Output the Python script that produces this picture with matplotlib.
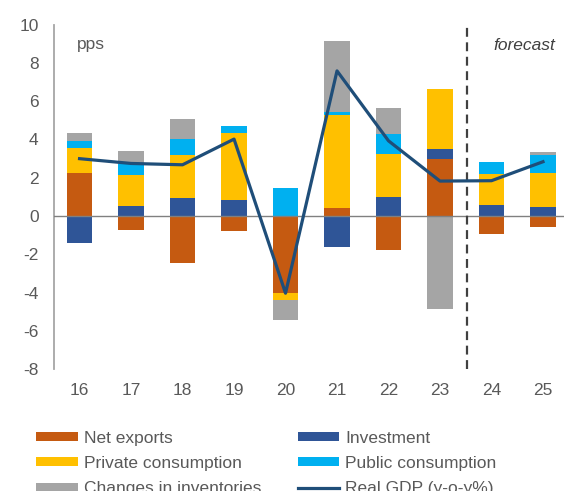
import numpy as np
import matplotlib
matplotlib.use('Agg')
from matplotlib import pyplot as plt

plt.rcParams['font.family'] = ['Liberation Sans', 'DejaVu Sans']
plt.rcParams['axes.unicode_minus'] = False

years = ['16', '17', '18', '19', '20', '21', '22', '23', '24', '25']
net_exports = [2.25, -0.70, -2.44, -0.76, -4.00, 0.40, -1.76, 2.98, -0.93, -0.55]
investment = [-1.38, 0.55, 0.95, 0.84, 0.00, -1.60, 1.02, 0.55, 0.58, 0.49]
private_cons = [1.33, 1.60, 2.25, 3.52, -0.35, 4.90, 2.22, 3.13, 1.62, 1.76]
public_cons = [0.35, 0.57, 0.85, 0.35, 1.47, 0.14, 1.07, -0.05, 0.60, 0.94]
inventories = [0.43, 0.69, 1.04, 0.00, -1.08, 3.72, 1.33, -4.80, 0.00, 0.17]
real_gdp = [3.00, 2.75, 2.68, 4.02, -4.02, 7.58, 3.93, 1.83, 1.85, 2.84]

series = [
    ('Net exports', net_exports, '#C55A11'),
    ('Investment', investment, '#2F5597'),
    ('Private consumption', private_cons, '#FFC000'),
    ('Public consumption', public_cons, '#00B0F0'),
    ('Changes in inventories', inventories, '#A5A5A5'),
]

txt = '#595959'
fig = plt.figure(figsize=(5.64, 4.91), dpi=100)
ax = fig.add_axes([0.0954, 0.2475, 0.913, 0.7026])

x = np.arange(len(years))
pos = np.zeros(len(years))
neg = np.zeros(len(years))
handles = {}
for name, vals, col in series:
    v = np.array(vals)
    bottom = np.where(v >= 0, pos, neg)
    handles[name] = ax.bar(x, v, 0.5, bottom=bottom, color=col, zorder=2)
    pos = pos + np.clip(v, 0, None)
    neg = neg + np.clip(v, None, 0)

gdp_line, = ax.plot(x, real_gdp, color='#1F4E79', lw=2.3, zorder=4)

ax.axhline(0, color='#808080', lw=1, zorder=3)
ax.axvline(7.53, color='#404040', lw=1.6, ls=(0, (4, 2.5)), zorder=3)

ax.set_xlim(-0.5, 9.5)
ax.set_ylim(-8, 10)
ax.set_yticks(range(-8, 11, 2))
ax.set_xticks(x)
ax.set_xticklabels(years)
for s in ['top', 'right', 'bottom']:
    ax.spines[s].set_visible(False)
ax.spines['left'].set_color('#A6A6A6')
ax.spines['left'].set_linewidth(1.3)
ax.tick_params(axis='both', length=0, labelsize=12.5, colors=txt)
ax.tick_params(axis='y', pad=11)
ax.tick_params(axis='x', pad=10)

ax.text(0.045, 0.965, 'pps', transform=ax.transAxes, fontsize=12.5, color=txt,
        ha='left', va='top')
ax.text(0.973, 0.96, 'forecast', transform=ax.transAxes, fontsize=12.5,
        color='#404040', style='italic', ha='right', va='top')

order = ['Net exports', 'Private consumption', 'Changes in inventories',
         'Investment', 'Public consumption']
h = [handles[n] for n in order[:3]] + [handles[n] for n in order[3:]] + [gdp_line]
labels = order + ['Real GDP (y-o-y%)']
fig.legend(h, labels, loc='upper left', bbox_to_anchor=(0.036, 0.155),
           ncol=2, frameon=False, fontsize=12.5, handlelength=2.4, handleheight=0.45,
           handletextpad=0.35, columnspacing=2.1, labelspacing=0.6, labelcolor=txt)

fig.savefig('out.png', dpi=100)
